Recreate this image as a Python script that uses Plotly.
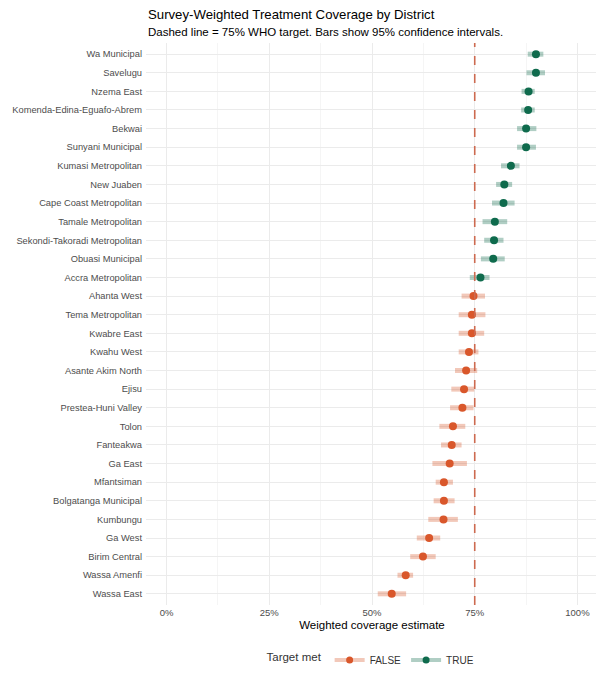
import plotly.graph_objects as go

# districts, top to bottom as in the chart
districts = ["Wa Municipal", "Savelugu", "Nzema East", "Komenda-Edina-Eguafo-Abrem", "Bekwai",
             "Sunyani Municipal", "Kumasi Metropolitan", "New Juaben", "Cape Coast Metropolitan",
             "Tamale Metropolitan", "Sekondi-Takoradi Metropolitan", "Obuasi Municipal",
             "Accra Metropolitan", "Ahanta West", "Tema Metropolitan", "Kwabre East", "Kwahu West",
             "Asante Akim North", "Ejisu", "Prestea-Huni Valley", "Tolon", "Fanteakwa", "Ga East",
             "Mfantsiman", "Bolgatanga Municipal", "Kumbungu", "Ga West", "Birim Central",
             "Wassa Amenfi", "Wassa East"]
estimate = [0.899, 0.899, 0.881, 0.880, 0.875, 0.875, 0.838, 0.822, 0.820, 0.799, 0.797, 0.795,
            0.764, 0.747, 0.743, 0.743, 0.736, 0.729, 0.724, 0.720, 0.697, 0.694, 0.689,
            0.675, 0.675, 0.674, 0.639, 0.624, 0.582, 0.548]
ci_low = [0.879, 0.876, 0.864, 0.863, 0.853, 0.853, 0.814, 0.802, 0.792, 0.769, 0.773, 0.765,
          0.738, 0.718, 0.711, 0.711, 0.711, 0.702, 0.693, 0.690, 0.664, 0.668, 0.647,
          0.655, 0.650, 0.637, 0.609, 0.593, 0.562, 0.514]
ci_high = [0.917, 0.921, 0.896, 0.896, 0.900, 0.899, 0.859, 0.841, 0.847, 0.829, 0.820, 0.823,
           0.786, 0.775, 0.776, 0.773, 0.759, 0.756, 0.749, 0.747, 0.727, 0.718, 0.731,
           0.697, 0.701, 0.709, 0.666, 0.655, 0.600, 0.583]
target = 0.75
x_ticks = [0, 0.25, 0.5, 0.75, 1.0]

colors = {False: "#D9572B", True: "#0F6B4D"}
ci_colors = {False: "rgba(217,87,43,0.33)", True: "rgba(15,107,77,0.33)"}

fig = go.Figure()

for met in [False, True]:
    idx = [i for i in range(len(districts)) if (estimate[i] >= target) == met]
    xs, ys = [], []
    for i in idx:
        xs += [ci_low[i], ci_high[i], None]
        ys += [districts[i], districts[i], None]
    fig.add_trace(go.Scatter(x=xs, y=ys, mode="lines", line=dict(color=ci_colors[met], width=5),
                             showlegend=False, hoverinfo="skip", legendgroup=str(met)))
    fig.add_trace(go.Scatter(x=[estimate[i] for i in idx], y=[districts[i] for i in idx],
                             mode="markers", marker=dict(color=colors[met], size=8),
                             showlegend=False, legendgroup=str(met)))
    # legend entry: light bar with the dot on top
    fig.add_trace(go.Scatter(x=[None], y=[None], mode="lines+markers", name=str(met).upper(),
                             line=dict(color=ci_colors[met], width=4),
                             marker=dict(color=colors[met], size=7), legendgroup=str(met)))

fig.add_shape(type="line", x0=target, x1=target, y0=0, y1=1, xref="x", yref="paper",
              line=dict(color="#CD6A50", width=1.6, dash="dash"))

# page body adds an 8px offset, so the figure is a bit smaller than the window
fig.update_layout(
    width=596, height=672,
    margin=dict(l=138, r=6, t=35, b=75, autoexpand=False),
    plot_bgcolor="white", paper_bgcolor="white",
    font=dict(family="Liberation Sans, Arial, sans-serif", color="#000000"),
    showlegend=True,
    legend=dict(orientation="h", x=0.5, xanchor="center", y=-0.098, yanchor="middle",
                title=dict(text="Target met", font=dict(size=11.5)),
                font=dict(size=10, color="#333333")),
    annotations=[
        dict(text="Survey-Weighted Treatment Coverage by District", x=0, y=1.0516,
             xref="paper", yref="paper", xanchor="left", yanchor="middle", showarrow=False,
             font=dict(size=13.2, color="#000000")),
        dict(text="Dashed line = 75% WHO target. Bars show 95% confidence intervals.", x=0, y=1.0196,
             xref="paper", yref="paper", xanchor="left", yanchor="middle", showarrow=False,
             font=dict(size=11.5, color="#000000")),
    ],
)
fig.update_xaxes(range=[-0.05, 1.05], tickvals=x_ticks, tickformat=".0%", showline=False,
                 zeroline=False, gridcolor="#EBEBEB", gridwidth=1, ticks="", automargin=False,
                 tickfont=dict(size=9.5, color="#4D4D4D"),
                 minor=dict(dtick=0.125, tick0=0.125, showgrid=True, gridcolor="#F5F5F5", gridwidth=1),
                 title=dict(text="Weighted coverage estimate", font=dict(size=11.5), standoff=4))
fig.update_yaxes(categoryorder="array", categoryarray=districts[::-1], range=[-0.6, len(districts) - 0.4],
                 showline=False, zeroline=False, gridcolor="#EBEBEB", gridwidth=1, ticks="",
                 automargin=False, ticklabelstandoff=3, tickfont=dict(size=9.3, color="#4D4D4D"))

fig.write_html("out.html")
